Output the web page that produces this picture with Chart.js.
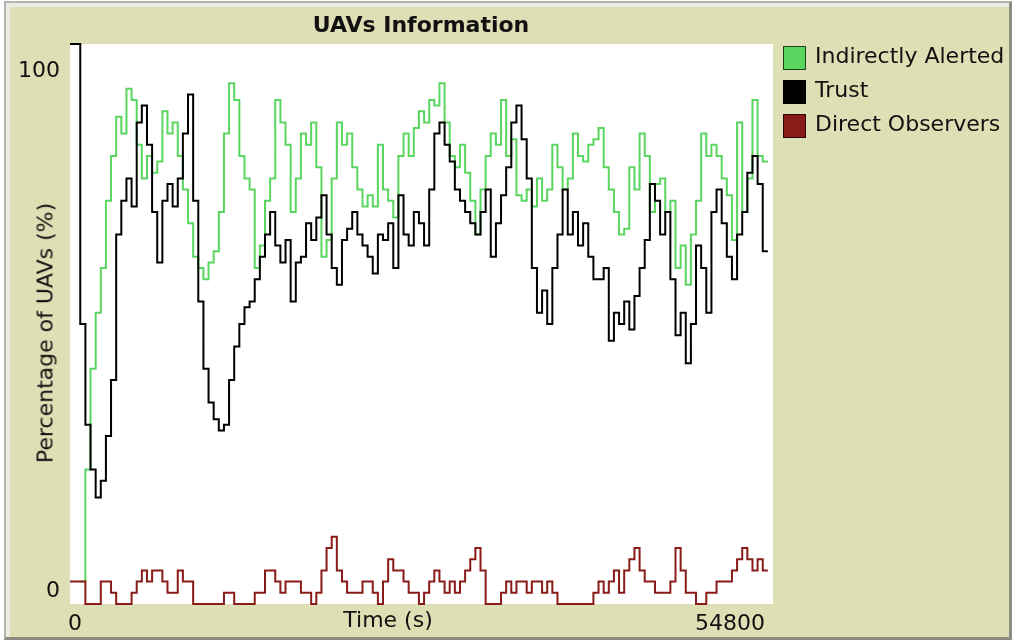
<!DOCTYPE html>
<html>
<head>
<meta charset="utf-8">
<script src="https://cdn.jsdelivr.net/npm/chart.js@4.4.1/dist/chart.umd.min.js"></script>
<style>
  body { margin: 0; background: #ffffff; font-family: "DejaVu Sans", sans-serif; }
  #frame {
    position: absolute; left: 4px; top: 1px; width: 1003px; height: 634px;
    background: #dfdfb5;
    border-top: 2px solid #b4b4b0; border-left: 2px solid #b4b4b0;
    border-right: 3px solid #8c8c84; border-bottom: 3px solid #8c8c84;
    box-shadow: inset 4px 4px 0 #ecece4;
  }
  #wrap { position: absolute; left: 0; top: 0; width: 1016px; height: 642px; }
  .txt { position: absolute; color: #111; font-size: 22px; white-space: nowrap; }
  #title { font-weight: bold; left: 421px; top: 12px; transform: translateX(-50%); }
  #xtitle { left: 388px; top: 607px; transform: translateX(-50%); }
  #ytitle { left: 45px; top: 333px; transform: translate(-50%, -50%) rotate(-90deg); }
  #legend { position: absolute; left: 783px; top: 46px; }
  .row { height: 34px; position: relative; }
  .box { position: absolute; left: 0; top: 0; width: 21px; height: 22px; border: 1px solid rgba(0,0,0,0.7); }
  .lbl { position: absolute; left: 32px; top: -3px; font-size: 22px; color: #111; white-space: nowrap; }
</style>
</head>
<body>
<div id="frame"></div>
<div id="wrap"><canvas id="grafico" width="1016" height="642"></canvas></div>
<div class="txt" id="title">UAVs Information</div>
<div class="txt" id="xtitle">Time (s)</div>
<div class="txt" id="ytitle">Percentage of UAVs (%)</div>
<div id="legend"></div>
<script>
// sample spacing of the readings (s)
const SAMPLE_STEP = 400
const xTicks = [0, 54800]
const yTicks = [0, 100]

// pen starts plotting after the first samples
const indirectlyAlerted = [
  null, null, 4, 24, 42, 52, 60, 72, 80, 87, 84, 92, 90, 82, 76, 80, 77, 79, 88, 84,
  86, 80, 74, 68, 62, 60, 58, 61, 63, 70, 84, 93, 90, 80, 76, 74, 60, 64, 72, 76,
  90, 86, 82, 70, 76, 84, 82, 86, 78, 62, 65, 76, 86, 82, 84, 78, 74, 71, 73, 71,
  82, 74, 72, 69, 80, 84, 80, 85, 88, 86, 90, 89, 93, 86, 80, 78, 82, 77, 72, 66,
  74, 80, 84, 82, 90, 80, 83, 73, 72, 74, 71, 76, 72, 74, 82, 78, 74, 76, 84, 80,
  79, 82, 83, 85, 78, 74, 70, 66, 67, 78, 74, 84, 80, 70, 75, 76, 70, 72, 60, 64,
  57, 66, 72, 84, 80, 82, 80, 76, 73, 65, 86, 70, 76, 90, 80, 79, 79
]

const trust = [
  100, 100, 50, 32, 24, 19, 22, 30, 40, 66, 72, 76, 71, 86, 89, 82, 70, 61, 72, 75,
  71, 76, 84, 91, 72, 54, 42, 36, 33, 31, 32, 40, 46, 50, 53, 54, 58, 62, 66, 70,
  64, 61, 65, 54, 61, 62, 68, 65, 69, 73, 66, 60, 57, 65, 67, 70, 66, 64, 62, 59,
  66, 65, 68, 60, 73, 66, 64, 70, 68, 64, 74, 84, 86, 82, 79, 74, 72, 70, 68, 66,
  70, 74, 62, 68, 73, 78, 86, 89, 83, 76, 60, 52, 56, 50, 60, 66, 74, 66, 70, 64,
  68, 62, 58, 58, 60, 47, 52, 50, 54, 49, 55, 60, 65, 75, 72, 66, 70, 58, 48, 52,
  43, 50, 64, 60, 52, 70, 74, 68, 62, 58, 66, 70, 77, 80, 75, 63, 63
]

const directObservers = [
  4, 4, 4, 0, 0, 0, 4, 4, 2, 0, 0, 0, 2, 4, 6, 4, 6, 6, 4, 2,
  2, 6, 4, 4, 0, 0, 0, 0, 0, 0, 2, 2, 0, 0, 0, 0, 2, 2, 6, 6,
  4, 2, 4, 4, 4, 2, 2, 0, 2, 6, 10, 12, 6, 4, 2, 2, 2, 4, 4, 2,
  0, 4, 8, 6, 6, 4, 2, 2, 0, 2, 4, 6, 4, 2, 4, 2, 4, 6, 8, 10,
  6, 0, 0, 0, 2, 4, 2, 4, 4, 2, 4, 4, 2, 4, 2, 0, 0, 0, 0, 0,
  0, 0, 2, 4, 2, 4, 6, 2, 6, 8, 10, 6, 4, 4, 2, 2, 2, 4, 10, 6,
  2, 2, 0, 0, 2, 2, 4, 4, 4, 6, 8, 10, 8, 6, 8, 6, 6
]

const times = trust.map((v, i) => i * SAMPLE_STEP)

function pontos(serie) {
  return serie.map((v, i) => ({ x: times[i], y: v }))
}

// legend order as in the plot widget
const series = [
  { label: 'Indirectly Alerted', color: 'rgb(90, 214, 96)', values: indirectlyAlerted },
  { label: 'Trust', color: 'rgb(0, 0, 0)', values: trust },
  { label: 'Direct Observers', color: 'rgb(137, 27, 24)', values: directObservers }
]

const fundoBranco = {
  id: 'fundoBranco',
  beforeDraw(chart) {
    const a = chart.chartArea
    const ctx = chart.ctx
    ctx.save()
    ctx.fillStyle = '#ffffff'
    ctx.fillRect(a.left, a.top, a.right - a.left, a.bottom - a.top)
    ctx.restore()
  }
}

// netlogo style min/max labels at the corners of the plot
const rotulos = {
  id: 'rotulos',
  afterDraw(chart) {
    const ctx = chart.ctx
    const sx = chart.scales.x
    const sy = chart.scales.y
    const a = chart.chartArea
    ctx.save()
    ctx.font = '22px "DejaVu Sans", sans-serif'
    ctx.fillStyle = '#111'
    ctx.textBaseline = 'alphabetic'
    ctx.textAlign = 'right'
    ctx.fillText(String(yTicks[1]), a.left - 10, sy.getPixelForValue(yTicks[1]) + 33)
    ctx.fillText(String(yTicks[0]), a.left - 10, sy.getPixelForValue(yTicks[0]) - 7)
    ctx.textAlign = 'left'
    ctx.fillText(String(xTicks[0]), sx.getPixelForValue(xTicks[0]) - 2, a.bottom + 26)
    ctx.textAlign = 'right'
    ctx.fillText(String(xTicks[1]), sx.getPixelForValue(xTicks[1]) - 8, a.bottom + 26)
    ctx.restore()
  }
}

function configurarGrafico() {
  // first dataset is drawn on top
  const desenho = [series[2], series[1], series[0]]
  const data = {
    datasets: desenho.map(s => ({
      label: s.label,
      data: pontos(s.values),
      borderColor: s.color,
      backgroundColor: s.color,
      borderWidth: 2,
      stepped: true,
      pointRadius: 0,
      fill: false,
      clip: 4
    }))
  }

  const config = {
    type: 'line',
    data: data,
    options: {
      responsive: false,
      animation: false,
      devicePixelRatio: 1,
      layout: { padding: { left: 70, top: 44, right: 243, bottom: 38 } },
      plugins: { legend: { display: false }, tooltip: { enabled: false } },
      scales: {
        x: { type: 'linear', min: xTicks[0], max: xTicks[1], display: false },
        y: { type: 'linear', min: yTicks[0], max: yTicks[1], display: false }
      }
    },
    plugins: [fundoBranco, rotulos]
  }

  new Chart(document.getElementById('grafico'), config)

  const legenda = document.getElementById('legend')
  series.forEach(s => {
    const row = document.createElement('div')
    row.className = 'row'
    row.innerHTML = `<div class="box" style="background:${s.color}"></div><div class="lbl">${s.label}</div>`
    legenda.appendChild(row)
  })
}

configurarGrafico()
</script>
</body>
</html>
